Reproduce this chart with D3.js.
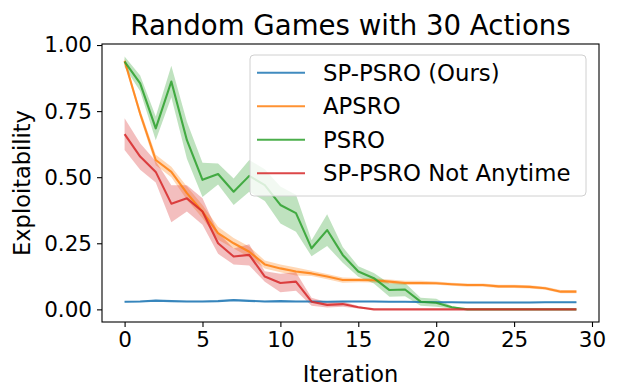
<!DOCTYPE html>
<html>
<head>
<meta charset="utf-8">
<script src="https://cdn.jsdelivr.net/npm/d3@7"></script>
<style>
  body { margin: 0; background: #fff; }
  svg { font-family: "DejaVu Sans", sans-serif; }
</style>
</head>
<body>
<div id="chart"></div>
<script>
// iterations 0..29
const iterations = d3.range(0, 30);

const seriesNames = ["SP-PSRO (Ours)", "APSRO", "PSRO", "SP-PSRO Not Anytime"];
const seriesColors = ["#1f77b4", "#ff7f0e", "#2ca02c", "#d62728"];

// mean exploitability per iteration
const spPsroMean = [0.029, 0.030, 0.033, 0.031, 0.030, 0.030, 0.031, 0.035, 0.032, 0.030,
  0.031, 0.030, 0.030, 0.029, 0.030, 0.030, 0.030, 0.029, 0.029, 0.028,
  0.027, 0.027, 0.026, 0.026, 0.026, 0.026, 0.026, 0.027, 0.027, 0.027];
const apsroMean = [0.940, 0.740, 0.565, 0.520, 0.440, 0.370, 0.288, 0.250, 0.218, 0.170,
  0.155, 0.143, 0.136, 0.124, 0.111, 0.111, 0.110, 0.105, 0.100, 0.100,
  0.099, 0.095, 0.092, 0.092, 0.087, 0.087, 0.085, 0.080, 0.067, 0.067];
const psroMean = [0.937, 0.855, 0.685, 0.862, 0.640, 0.490, 0.512, 0.445, 0.505, 0.470,
  0.395, 0.364, 0.231, 0.300, 0.206, 0.143, 0.118, 0.073, 0.075, 0.029,
  0.025, 0.008, 0, 0, 0, 0, 0, 0, 0, 0];
const notAnytimeMean = [0.663, 0.578, 0.520, 0.400, 0.420, 0.370, 0.250, 0.200, 0.206, 0.124,
  0.100, 0.105, 0.029, 0.017, 0.020, 0.008, 0, 0, 0, 0,
  0, 0, 0, 0, 0, 0, 0, 0, 0, 0];

// half width of the shaded band
const spPsroSpread = [0.003, 0.003, 0.003, 0.003, 0.003, 0.003, 0.003, 0.003, 0.003, 0.003,
  0.003, 0.003, 0.003, 0.003, 0.003, 0.003, 0.003, 0.003, 0.003, 0.003,
  0.003, 0.003, 0.003, 0.003, 0.003, 0.003, 0.003, 0.003, 0.003, 0.003];
const apsroSpread = [0.010, 0.015, 0.020, 0.020, 0.025, 0.025, 0.025, 0.020, 0.020, 0.015,
  0.015, 0.015, 0.010, 0.010, 0.010, 0.008, 0.008, 0.008, 0.008, 0.008,
  0.006, 0.006, 0.006, 0.006, 0.006, 0.006, 0.006, 0.006, 0.006, 0.006];
const psroSpread = [0.020, 0.030, 0.045, 0.060, 0.070, 0.065, 0.040, 0.050, 0.060, 0.060,
  0.070, 0.070, 0.030, 0.060, 0.030, 0.020, 0.020, 0.025, 0.025, 0.015,
  0.015, 0.005, 0, 0, 0, 0, 0, 0, 0, 0];
const notAnytimeSpread = [0.060, 0.050, 0.040, 0.070, 0.050, 0.050, 0.040, 0.030, 0.040, 0.020,
  0.035, 0.035, 0.015, 0.010, 0.010, 0.005, 0, 0, 0, 0,
  0, 0, 0, 0, 0, 0, 0, 0, 0, 0];

const xTicks = [0, 5, 10, 15, 20, 25, 30];
const yTicks = [0, 0.25, 0.5, 0.75, 1.0];

const allMeans = [spPsroMean, apsroMean, psroMean, notAnytimeMean];
const allSpreads = [spPsroSpread, apsroSpread, psroSpread, notAnytimeSpread];

// figure size and axes box
const width = 634;
const height = 392;
const margin = { left: 102, right: 35, top: 44, bottom: 70 };

const svg = d3.select("#chart")
  .append("svg")
  .attr("width", width)
  .attr("height", height);

const x = d3.scaleLinear()
  .domain([-1.45, 30.45])
  .range([margin.left, width - margin.right]);

const y = d3.scaleLinear()
  .domain([-0.0478, 1.0039])
  .range([height - margin.bottom, margin.top]);

// shaded bands first, then lines
const area = d3.area()
  .x((d, i) => x(iterations[i]))
  .y0(d => y(d[0] - d[1]))
  .y1(d => y(d[0] + d[1]));

const line = d3.line()
  .x((d, i) => x(iterations[i]))
  .y(d => y(d));

allMeans.forEach((mean, k) => {
  const pairs = mean.map((m, i) => [m, allSpreads[k][i]]);
  svg.append("path")
    .attr("d", area(pairs))
    .attr("fill", seriesColors[k])
    .attr("fill-opacity", 0.3);
});

allMeans.forEach((mean, k) => {
  svg.append("path")
    .attr("d", line(mean))
    .attr("fill", "none")
    .attr("stroke", seriesColors[k])
    .attr("stroke-opacity", 0.85)
    .attr("stroke-width", 2.1)
    .attr("stroke-linejoin", "round");
});

// axes
const xAxis = svg.append("g")
  .attr("transform", `translate(0, ${height - margin.bottom})`)
  .call(d3.axisBottom(x).tickValues(xTicks).tickSize(5).tickPadding(5).tickFormat(d3.format("d")));

const yAxis = svg.append("g")
  .attr("transform", `translate(${margin.left}, 0)`)
  .call(d3.axisLeft(y).tickValues(yTicks).tickSize(5).tickPadding(5).tickFormat(d3.format(".2f")));

[xAxis, yAxis].forEach(g => {
  g.select(".domain").remove();
  g.selectAll(".tick line").attr("stroke", "#000").attr("stroke-width", 1.1);
  g.selectAll(".tick text")
    .attr("fill", "#000")
    .style("font-size", "21.5px")
    .style("font-family", "DejaVu Sans");
});

// axes frame
svg.append("rect")
  .attr("x", margin.left)
  .attr("y", margin.top)
  .attr("width", width - margin.right - margin.left)
  .attr("height", height - margin.bottom - margin.top)
  .attr("fill", "none")
  .attr("stroke", "#000")
  .attr("stroke-width", 1.1);

// title and labels
svg.append("text")
  .attr("x", (margin.left + width - margin.right) / 2)
  .attr("y", 35)
  .attr("text-anchor", "middle")
  .style("font-size", "27.6px")
  .text("Random Games with 30 Actions");

svg.append("text")
  .attr("x", (margin.left + width - margin.right) / 2)
  .attr("y", 382)
  .attr("text-anchor", "middle")
  .style("font-size", "22.5px")
  .text("Iteration");

svg.append("text")
  .attr("transform", `translate(30, ${(margin.top + height - margin.bottom) / 2}) rotate(-90)`)
  .attr("text-anchor", "middle")
  .style("font-size", "22.5px")
  .text("Exploitability");

// legend
const legend = svg.append("g")
  .attr("transform", "translate(250, 55)");

legend.append("rect")
  .attr("width", 336)
  .attr("height", 141)
  .attr("rx", 4)
  .attr("fill", "#fff")
  .attr("fill-opacity", 0.8)
  .attr("stroke", "#d0d0d0")
  .attr("stroke-width", 1);

seriesNames.forEach((name, k) => {
  const rowY = 17.7 + k * 33.5;
  legend.append("line")
    .attr("x1", 7)
    .attr("x2", 55)
    .attr("y1", rowY)
    .attr("y2", rowY)
    .attr("stroke", seriesColors[k])
    .attr("stroke-opacity", 0.85)
    .attr("stroke-width", 2.1);
  legend.append("text")
    .attr("x", 73)
    .attr("y", rowY + 8)
    .style("font-size", "22.8px")
    .text(name);
});
</script>
</body>
</html>
